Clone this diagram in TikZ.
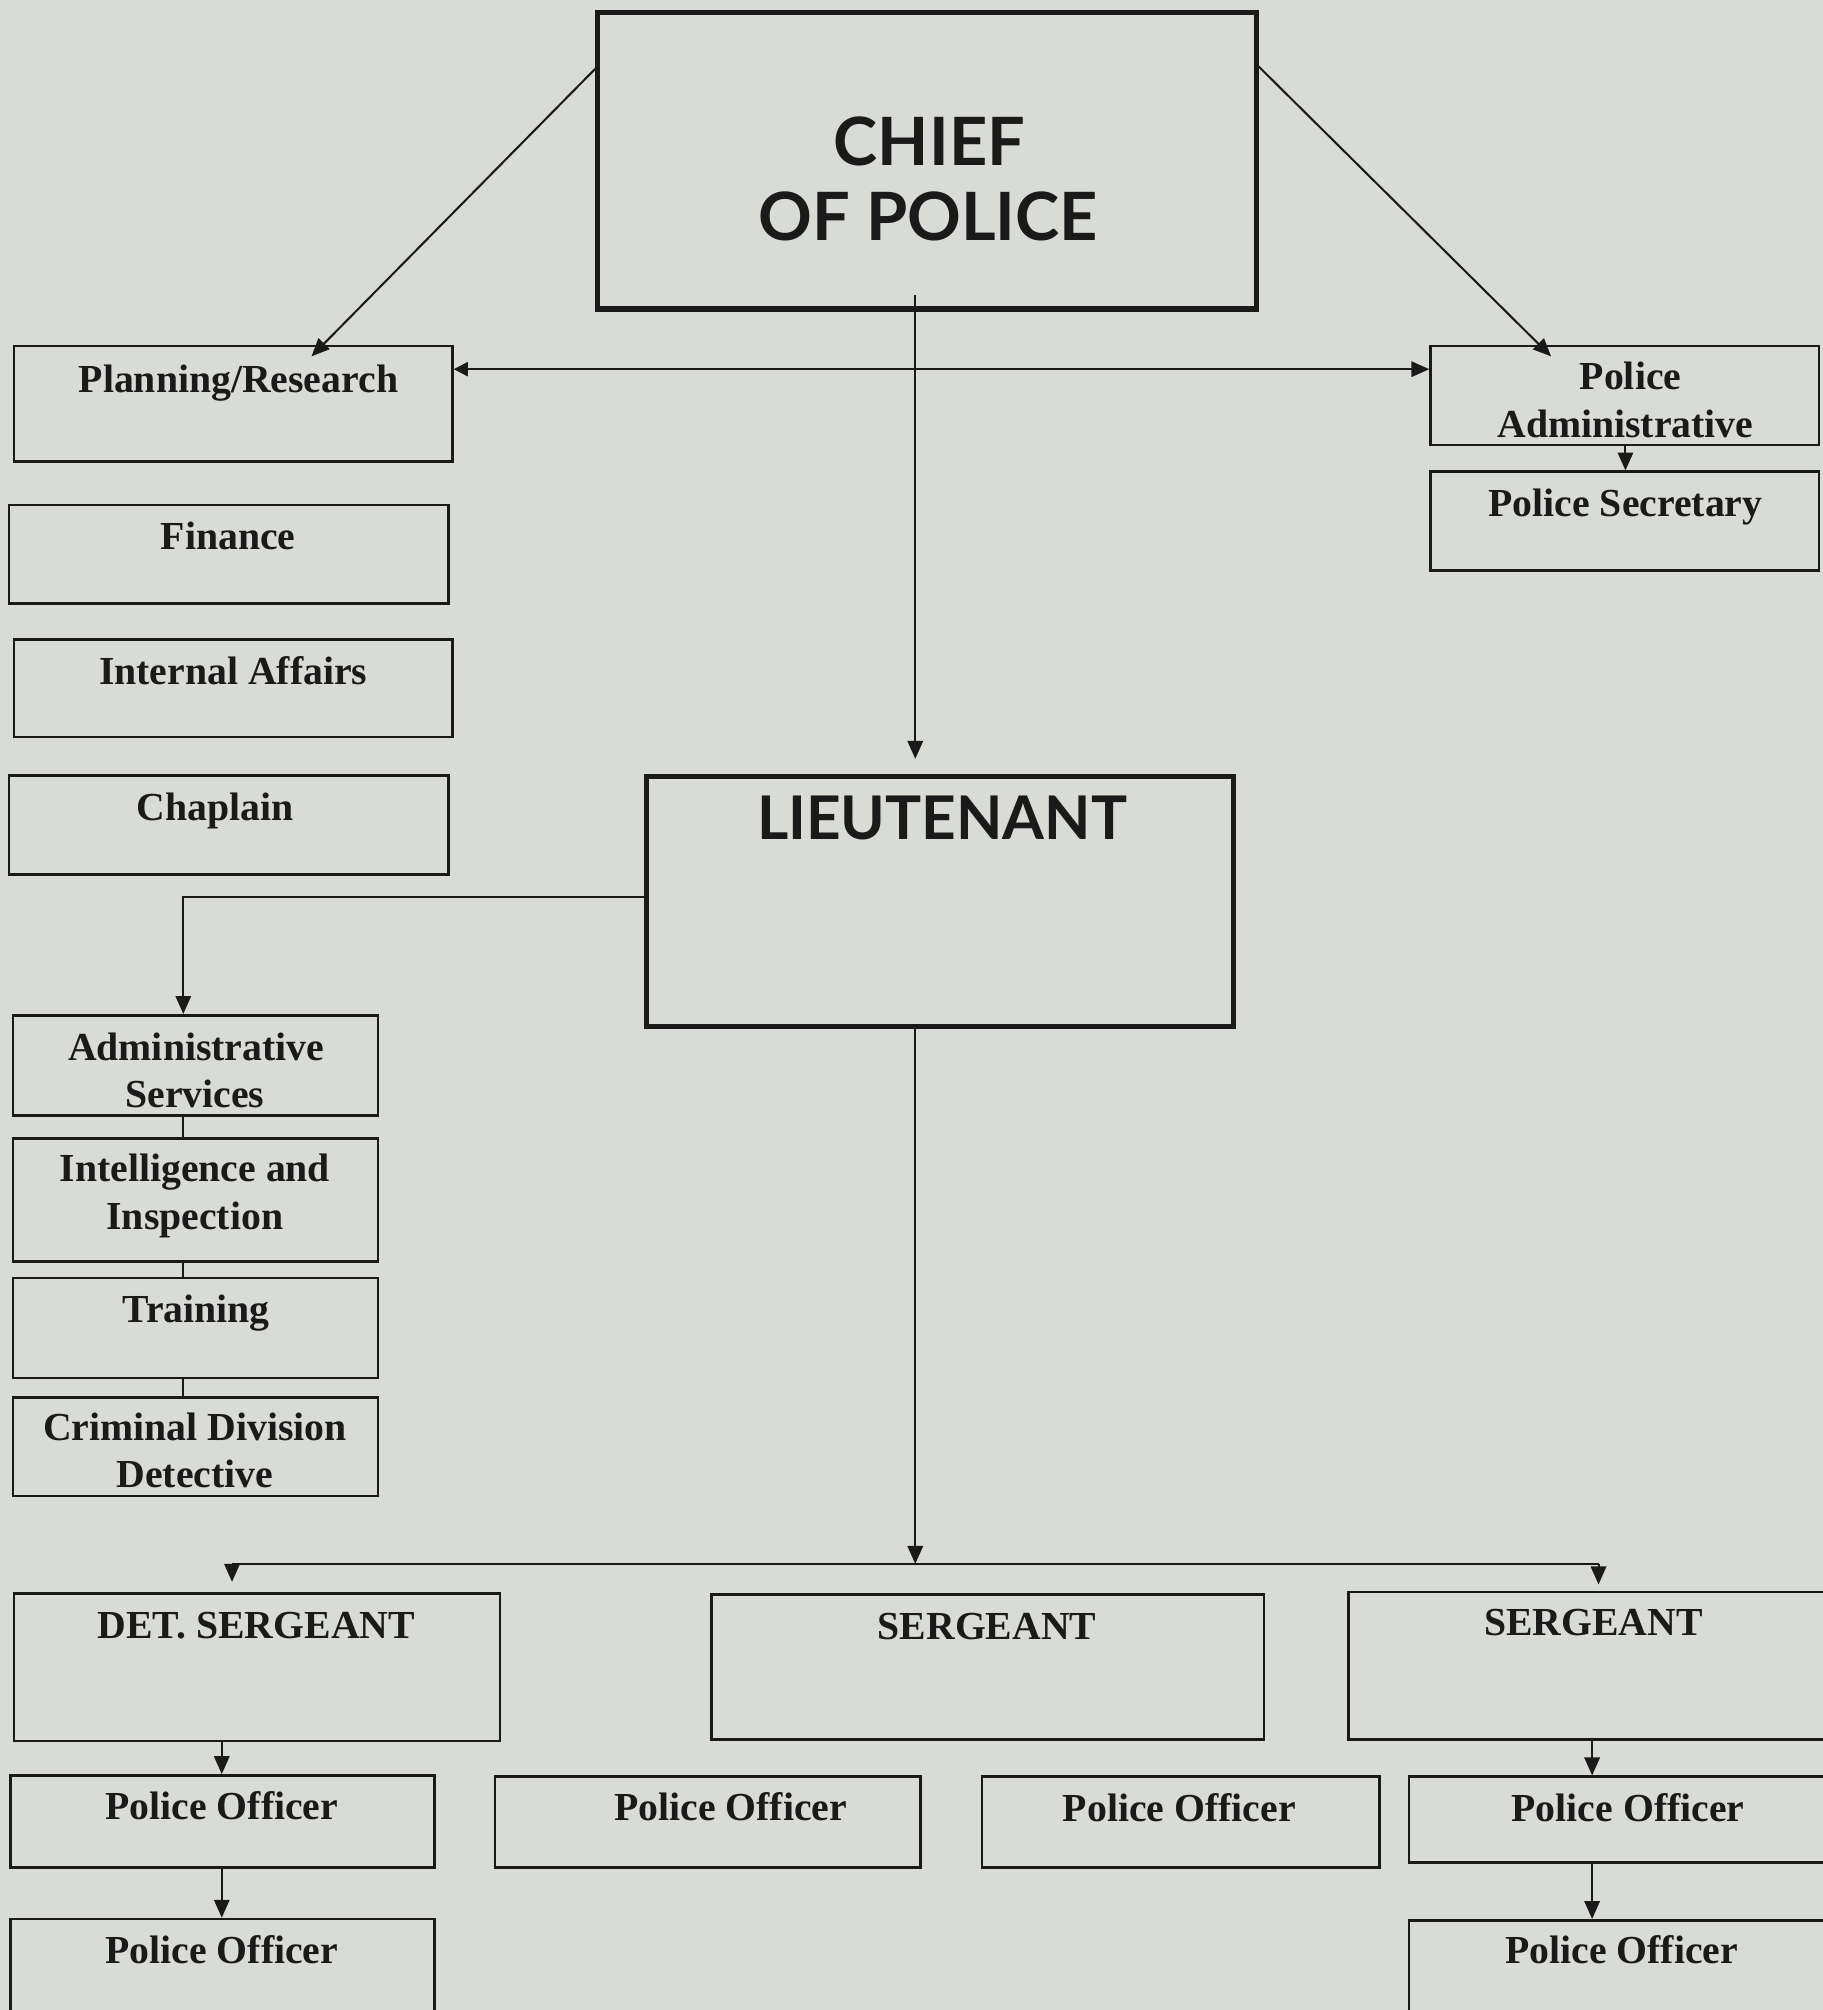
\documentclass[tikz,border=0pt]{standalone}
\usepackage{fontspec}
\setmainfont{Liberation Serif}
\newfontfamily\headfont{Lato}
\usetikzlibrary{arrows.meta,calc}
\definecolor{bgc}{HTML}{D9DBD6}
\definecolor{ink}{HTML}{1A1A1A}
\begin{document}
\begin{tikzpicture}[x=0.5pt,y=-0.5pt,
  box/.style={draw=ink,line width=1pt,inner sep=0pt,fill=none},
  bigbox/.style={draw=ink,line width=2pt,inner sep=0pt},
  lbl/.style={anchor=base,inner sep=0pt,text=ink,font=\fontsize{15.5}{18.5}\selectfont\bfseries,align=center},
  head/.style={anchor=base,inner sep=0pt,text=ink,font=\headfont\fontsize{26}{29.5}\selectfont\bfseries,align=center},
  conn/.style={draw=ink,line width=0.8pt},
  arr/.style={conn,-{Triangle[length=7pt,width=6pt]}},
]
\fill[bgc] (0,0) rectangle (1422,1568);
\useasboundingbox (0,0) rectangle (1422,1568);
\newcommand\obox[6][box]{\node[#1,minimum width={(#5-#3)*0.5pt},minimum height={(#6-#4)*0.5pt}] (#2) at ({(#3+#5)/2},{(#4+#6)/2}) {};}

% boxes
\obox[bigbox]{chief}{466}{10}{980}{241}
\obox{plan}{11}{270}{353}{360}
\obox{admin}{1116}{270}{1419}{347}
\obox{sec}{1116}{368}{1419}{445}
\obox{fin}{7}{394}{350}{471}
\obox{ia}{11}{499}{353}{575}
\obox{chap}{7}{605}{350}{682}
\obox[bigbox]{lieut}{504}{606}{962}{801}
\obox{adms}{10}{792}{295}{870}
\obox{intel}{10}{888}{295}{984}
\obox{train}{10}{997}{295}{1075}
\obox{crim}{10}{1090}{295}{1167}
\obox{det}{11}{1243}{390}{1358}
\obox{sgt1}{555}{1244}{986}{1357}
\obox{sgt2}{1052}{1242}{1430}{1357}
\obox{po1}{8}{1385}{339}{1457}
\obox{po2}{8}{1497}{339}{1580}
\obox{po3}{386}{1386}{718}{1457}
\obox{po4}{766}{1386}{1076}{1457}
\obox{po5}{1099}{1386}{1430}{1453}
\obox{po6}{1099}{1498}{1430}{1580}

% texts
\node[head] (tchief) at (725,129) {CHIEF};
\node[head] (tchief2) at (724,188) {OF POLICE};
\node[head,font=\headfont\fontsize{23.5}{26}\selectfont\bfseries] (tlieut) at (735,655) {LIEUTENANT};
\node[lbl] (tplan) at (186,306) {Planning/Research};
\node[lbl] (tadm1) at (1272,304) {Police};
\node[lbl] (tadm2) at (1268,341) {Administrative};
\node[lbl] (tsec) at (1268,403) {Police Secretary};
\node[lbl] (tfin) at (178,429) {Finance};
\node[lbl] (tia) at (182,534) {Internal Affairs};
\node[lbl] (tchap) at (168,640) {Chaplain};
\node[lbl] (tadms1) at (153,827) {Administrative};
\node[lbl] (tadms2) at (152,864) {Services};
\node[lbl] (tint1) at (152,922) {Intelligence and};
\node[lbl] (tint2) at (152,959) {Inspection};
\node[lbl] (ttrain) at (153,1032) {Training};
\node[lbl] (tcrim1) at (152,1124) {Criminal Division};
\node[lbl] (tcrim2) at (152,1160) {Detective};
\node[lbl] (tdet) at (200,1278) {DET. SERGEANT};
\node[lbl] (tsgt1) at (770,1279) {SERGEANT};
\node[lbl] (tsgt2) at (1243,1276) {SERGEANT};
\node[lbl] (tpo1) at (173,1419) {Police Officer};
\node[lbl] (tpo2) at (173,1532) {Police Officer};
\node[lbl] (tpo3) at (570,1420) {Police Officer};
\node[lbl] (tpo4) at (920,1421) {Police Officer};
\node[lbl] (tpo5) at (1270,1421) {Police Officer};
\node[lbl] (tpo6) at (1265,1532) {Police Officer};

% coordinates
\coordinate (cl) at (466,52);
\coordinate (cr) at (980,50);
\coordinate (vx) at (714,230);
\coordinate (hy) at (0,288);
\coordinate (lx) at (143,700);
\coordinate (bl) at (181,1220);
\coordinate (bm) at (714,1220);
\coordinate (br) at (1247,1220);
\coordinate (x173) at (173,0);
\coordinate (x1242) at (1242,0);
\coordinate (pl) at (243,278);
\coordinate (pr) at (1210,278);

% connectors
\draw[arr] (cl) -- (pl);
\draw[arr] (cr) -- (pr);
\draw[arr] (vx) -- ([yshift=6pt]lieut.north -| vx);
\draw[conn,{Triangle[length=5.5pt,width=5.5pt]}-{Triangle[length=7pt,width=6pt]}] (plan.east |- hy) -- (admin.west |- hy);
\draw[arr] (admin.south -| tsec) -- (sec.north -| tsec);
\draw[arr] (lieut.west |- lx) -- (lx) -- (adms.north -| lx);
\draw[conn] (adms.south -| lx) -- (intel.north -| lx);
\draw[conn] (intel.south -| lx) -- (train.north -| lx);
\draw[conn] (train.south -| lx) -- (crim.north -| lx);
\draw[arr] (lieut.south -| bm) -- (bm);
\draw[conn,line width=1.1pt] (bl) -- (br);
\draw[arr] (bl) -- ([yshift=4pt]det.north -| bl);
\draw[arr] (br) -- ([yshift=2.5pt]sgt2.north -| br);
\draw[arr] (det.south -| x173) -- (po1.north -| x173);
\draw[arr] (po1.south -| x173) -- (po2.north -| x173);
\draw[arr] (sgt2.south -| x1242) -- (po5.north -| x1242);
\draw[arr] (po5.south -| x1242) -- (po6.north -| x1242);
\end{tikzpicture}
\end{document}
